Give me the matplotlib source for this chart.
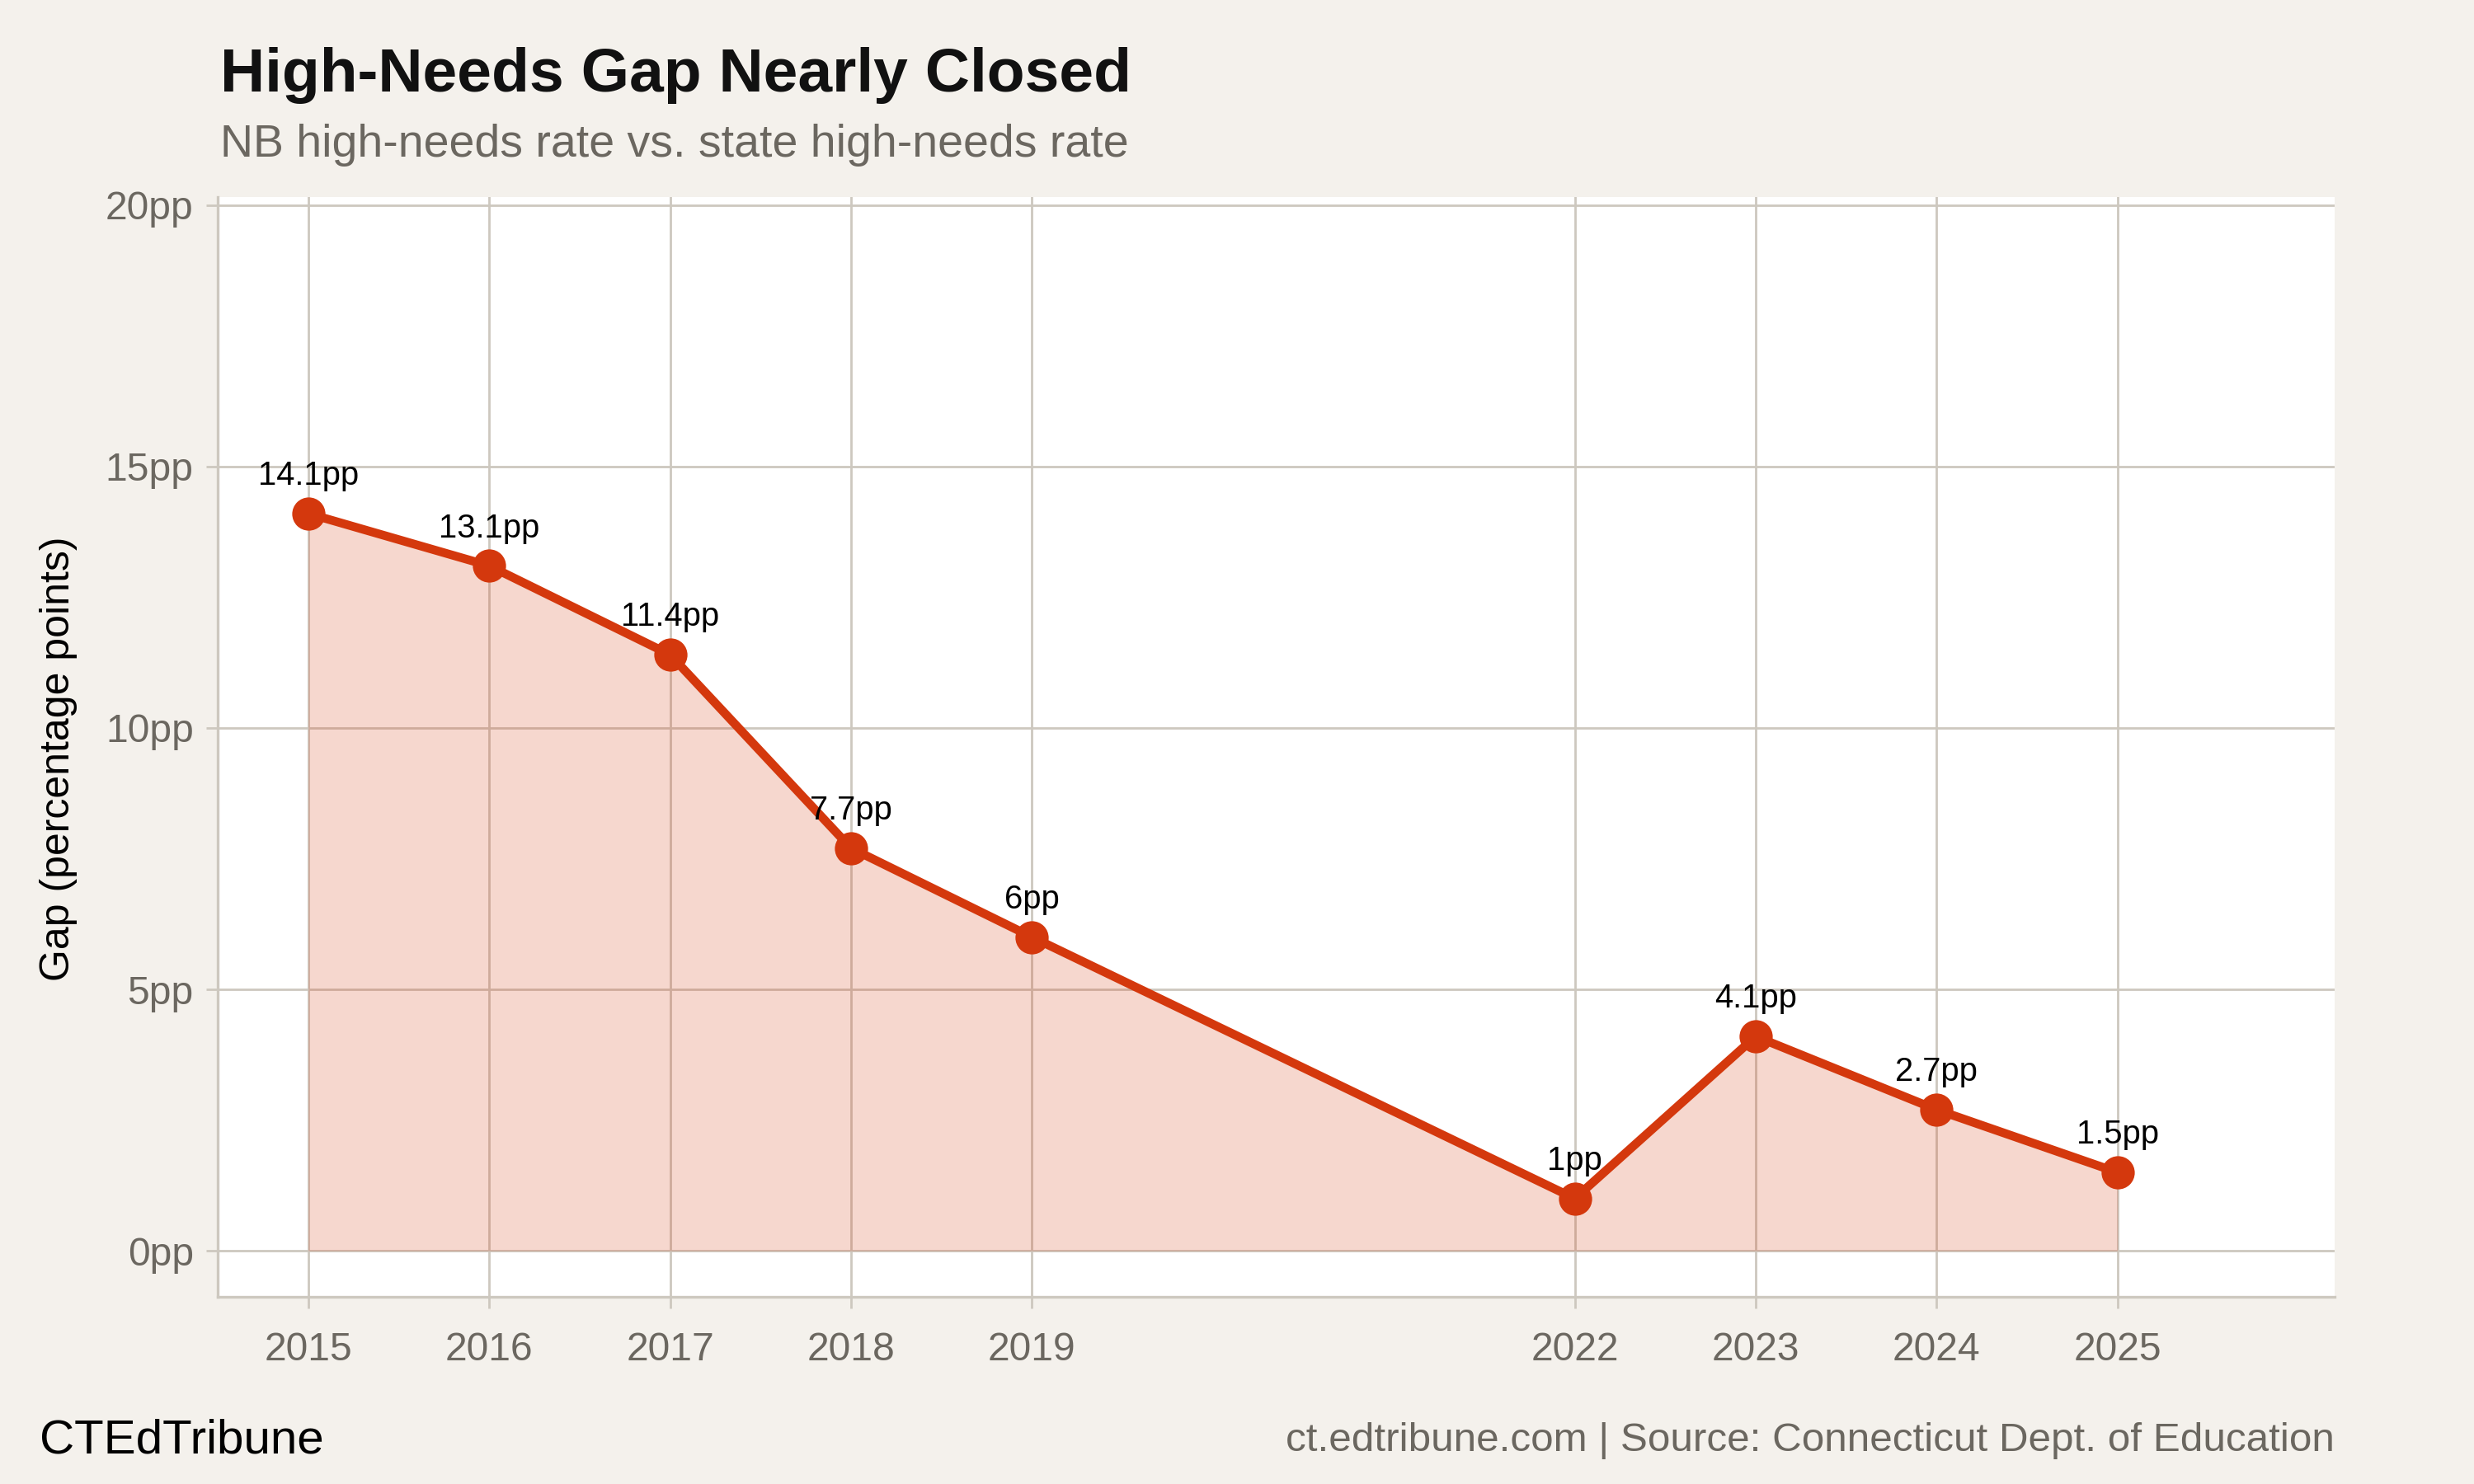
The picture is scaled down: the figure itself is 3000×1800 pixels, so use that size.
import matplotlib.pyplot as plt

plt.rcParams['font.family'] = ['Liberation Sans', 'DejaVu Sans']

# data
years = [2015, 2016, 2017, 2018, 2019, 2022, 2023, 2024, 2025]
gap = [14.1, 13.1, 11.4, 7.7, 6.0, 1.0, 4.1, 2.7, 1.5]
labels = ['14.1pp', '13.1pp', '11.4pp', '7.7pp', '6pp', '1pp', '4.1pp', '2.7pp', '1.5pp']
y_ticks = [0, 5, 10, 15, 20]
y_tick_labels = ['0pp', '5pp', '10pp', '15pp', '20pp']

bg = '#f4f1ec'
red = '#d4380d'
gridc = '#cdc8bf'
gray = '#6b6760'

fig = plt.figure(figsize=(15, 9), dpi=200, facecolor=bg)
ax = fig.add_axes([0.088, 0.1261, 0.8557, 0.7411])
ax.set_facecolor('white')

ax.fill_between(years, gap, 0, color=red, alpha=0.2, linewidth=0, zorder=2)
ax.plot(years, gap, color=red, linewidth=3.8, solid_joinstyle='round', zorder=3)
ax.plot(years, gap, 'o', color=red, markersize=13.5, zorder=4)

# value labels above points
for x, y, t in zip(years, gap, labels):
    ax.annotate(t, (x, y), xytext=(0, 12.5), textcoords='offset points',
                ha='center', va='baseline', fontsize=14.4, color='black', zorder=5)

ax.set_xlim(2014.5, 2026.2)
ax.set_ylim(-0.88, 20.15)
ax.set_xticks(years)
ax.set_xticklabels([str(y) for y in years])
ax.set_yticks(y_ticks)
ax.set_yticklabels(y_tick_labels)

ax.grid(True, color=gridc, linewidth=1.0, zorder=1)
ax.set_axisbelow(True)
for s in ['top', 'right']:
    ax.spines[s].set_visible(False)
for s in ['left', 'bottom']:
    ax.spines[s].set_color(gridc)
    ax.spines[s].set_linewidth(1.2)
ax.tick_params(axis='both', colors=gridc, labelcolor=gray, labelsize=17.3,
               length=5, width=1.0)
ax.tick_params(axis='x', pad=10)
ax.tick_params(axis='y', pad=5.5)

fig.text(0.0237, 0.489, 'Gap (percentage points)', rotation=90, fontsize=18,
         color='black', ha='center', va='center')

fig.text(0.089, 0.949, 'High-Needs Gap Nearly Closed', fontsize=27, fontweight='bold',
         color='#111111', ha='left', va='center')
fig.text(0.089, 0.902, 'NB high-needs rate vs. state high-needs rate', fontsize=20,
         color=gray, ha='left', va='center')
fig.text(0.016, 0.029, 'CTEdTribune', fontsize=21, color='black', ha='left', va='center')
fig.text(0.9437, 0.029, 'ct.edtribune.com | Source: Connecticut Dept. of Education',
         fontsize=17.8, color=gray, ha='right', va='center')

fig.savefig('out.png', dpi=200, facecolor=bg)
